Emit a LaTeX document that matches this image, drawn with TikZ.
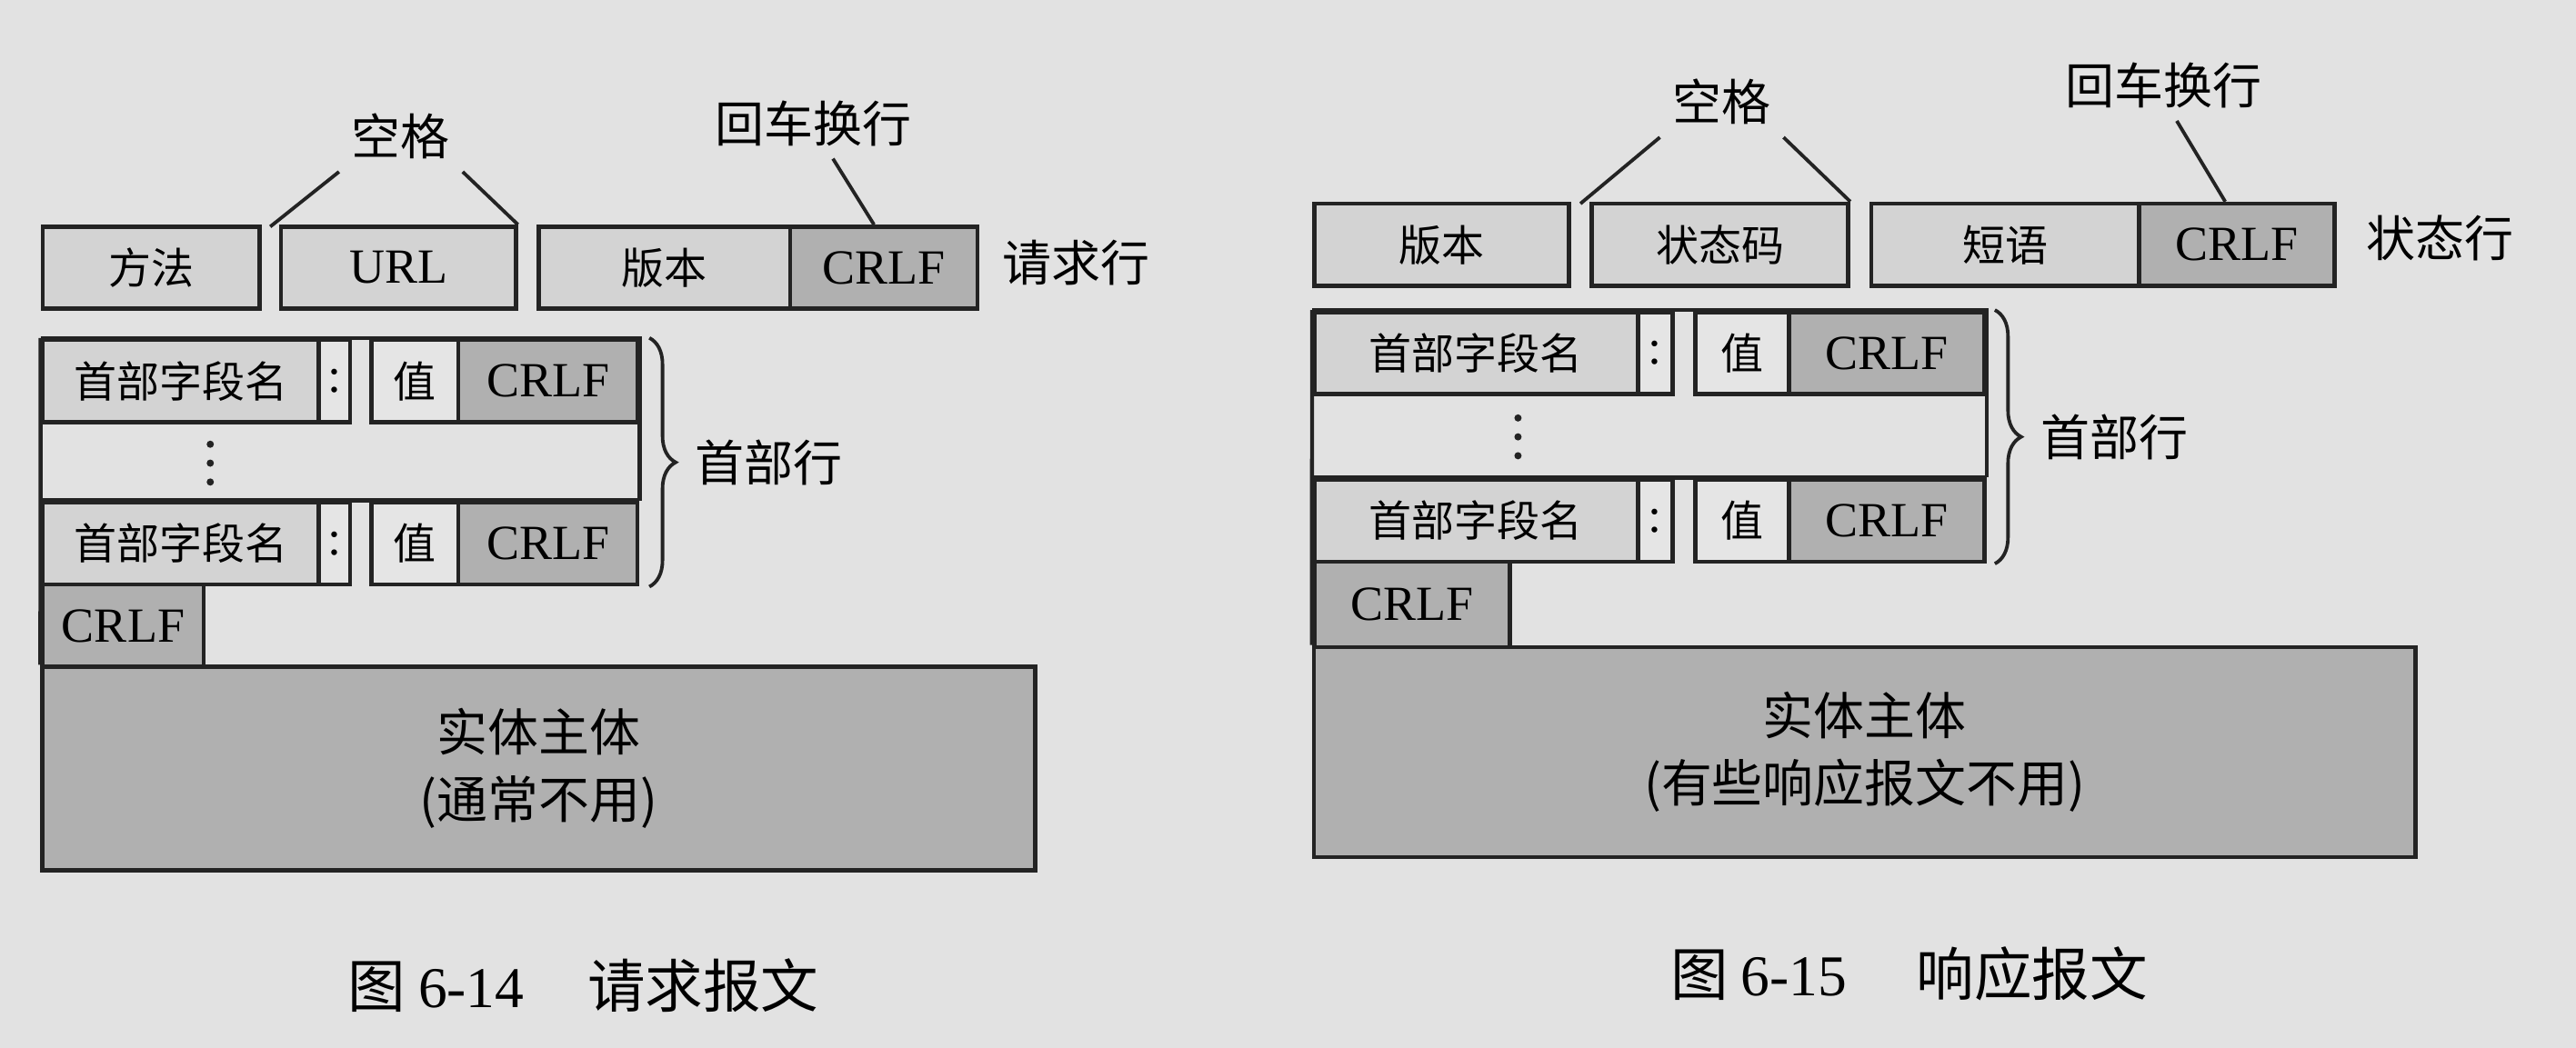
\documentclass[tikz,border=0pt]{standalone}
\usepackage{fontspec}
\setmainfont{Noto Sans CJK SC}
\newfontfamily\lat{Liberation Serif}
\usetikzlibrary{positioning, decorations.pathreplacing}

\definecolor{paper}{RGB}{226,226,226}
\definecolor{fldgray}{RGB}{211,211,211}
\definecolor{valgray}{RGB}{229,229,229}
\definecolor{crlfgray}{RGB}{176,176,176}
\definecolor{ink}{RGB}{35,35,35}

\begin{document}
\begin{tikzpicture}[
  x=0.01cm, y=-0.01cm,
  box/.style={draw=ink, line width=0.7pt, inner sep=0pt, minimum height=0.5cm},
  fld/.style={box, fill=fldgray, font=\fontsize{7.4}{9}\selectfont},
  val/.style={box, fill=valgray, font=\fontsize{7.4}{9}\selectfont},
  crlf/.style={box, fill=crlfgray, font=\lat\fontsize{8.5}{10}\selectfont},
  latin/.style={font=\lat\fontsize{8.5}{10}\selectfont},
  body/.style={box, fill=crlfgray, align=center, font=\fontsize{8.8}{11.6}\selectfont},
  tag/.style={inner sep=2pt, font=\fontsize{8.5}{10}\selectfont},
  frame/.style={draw=ink, line width=0.7pt},
  lead/.style={draw=ink, line width=0.6pt},
  brace/.style={draw=ink, line width=0.6pt, decorate, decoration={brace, amplitude=0.16cm}},
  figcap/.style={font=\fontsize{10}{12}\selectfont}
]
  \useasboundingbox (0,0) rectangle (1568,638);
  \fill[paper] (0,0) rectangle (1568,638);

  % ---------- request message ----------
  % request line
  \node[fld, minimum width=1.32cm] (req-method) at (92,163) {方法};
  \node[fld, latin, minimum width=1.43cm] (req-url) at (242.5,163) {URL};
  \node[fld, minimum width=1.53cm] (req-ver) at (404.5,163) {版本};
  \node[crlf, minimum width=1.14cm] (req-crlf) at (538,163) {CRLF};
  \node[tag] (req-lbl) at (655,160) {请求行};

  % space and CR/LF callouts
  \node[tag] (req-sp) at (244,83) {空格};
  \coordinate (req-gap) at (164.5,138);
  \draw[lead] (req-sp.south west) -- (req-gap);
  \draw[lead] (req-sp.south east) -- (req-url.north east);
  \node[tag] (req-cr) at (495,75) {回车换行};
  \draw[lead] ([xshift=0.12cm]req-cr.south) -- ([xshift=-0.06cm]req-crlf.north);

  % header lines
  \node[fld, minimum width=1.68cm] (req-h1-name) at (110,232) {首部字段名};
  \node[val, latin, minimum width=0.19cm] (req-h1-colon) at (203.5,232) {:};
  \node[val, minimum width=0.53cm] (req-h1-val) at (252.5,232) {值};
  \node[crlf, minimum width=1.09cm] (req-h1-crlf) at (333.5,232) {CRLF};
  \foreach \dy in {-11.5,0,11.5}
    \fill[ink] (128,282+\dy) circle (0.022cm);
  \node[fld, minimum width=1.68cm] (req-h2-name) at (110,331) {首部字段名};
  \node[val, latin, minimum width=0.19cm] (req-h2-colon) at (203.5,331) {:};
  \node[val, minimum width=0.53cm] (req-h2-val) at (252.5,331) {值};
  \node[crlf, minimum width=1.09cm] (req-h2-crlf) at (333.5,331) {CRLF};

  % empty line and entity body
  \node[crlf, minimum width=0.98cm] (req-end) at (75,381) {CRLF};
  \node[body, minimum width=6.04cm, minimum height=1.24cm] (req-body) at (328,468)
    {实体主体\\(通常不用)};

  % header frame
  \draw[frame] (req-h1-name.north west) -- (req-h1-crlf.north east) -- (req-h2-crlf.north east);
  \draw[frame] (req-h2-name.north west) -- (req-h2-crlf.north east);
  \draw[frame] (req-h1-name.north west) -- (req-body.north west);

  % header brace
  \draw[brace] ([xshift=0.06cm]req-h1-crlf.north east) -- ([xshift=0.06cm]req-h2-crlf.south east)
    node[tag, midway, right=0.2cm] (req-hdr) {首部行};

  \node[figcap] (cap-req) at (355,600) {图 {\lat 6-14}\hspace{1.1em}请求报文};

  % ---------- response message ----------
  % status line
  \node[fld, minimum width=1.55cm] (rsp-ver) at (877.5,149) {版本};
  \node[fld, minimum width=1.56cm] (rsp-code) at (1047,149) {状态码};
  \node[fld, minimum width=1.63cm] (rsp-phrase) at (1220.5,149) {短语};
  \node[crlf, minimum width=1.19cm] (rsp-crlf) at (1361.5,149) {CRLF};
  \node[tag] (rsp-lbl) at (1485,145) {状态行};

  % space and CR/LF callouts
  \node[tag] (rsp-sp) at (1048,62) {空格};
  \coordinate (rsp-gap) at (962,124);
  \draw[lead] (rsp-sp.south west) -- (rsp-gap);
  \draw[lead] (rsp-sp.south east) -- (rsp-code.north east);
  \node[tag] (rsp-cr) at (1317,52) {回车换行};
  \draw[lead] ([xshift=0.08cm]rsp-cr.south) -- ([xshift=-0.07cm]rsp-crlf.north);

  % header lines
  \node[fld, minimum width=1.97cm] (rsp-h1-name) at (898.5,215) {首部字段名};
  \node[val, latin, minimum width=0.21cm] (rsp-h1-colon) at (1007.5,215) {:};
  \node[val, minimum width=0.57cm] (rsp-h1-val) at (1060.5,215) {值};
  \node[crlf, minimum width=1.19cm] (rsp-h1-crlf) at (1148.5,215) {CRLF};
  \foreach \dy in {-11.5,0,11.5}
    \fill[ink] (924,266+\dy) circle (0.022cm);
  \node[fld, minimum width=1.97cm] (rsp-h2-name) at (898.5,317) {首部字段名};
  \node[val, latin, minimum width=0.21cm] (rsp-h2-colon) at (1007.5,317) {:};
  \node[val, minimum width=0.57cm] (rsp-h2-val) at (1060.5,317) {值};
  \node[crlf, minimum width=1.19cm] (rsp-h2-crlf) at (1148.5,317) {CRLF};

  % empty line and entity body
  \node[crlf, minimum width=1.19cm, minimum height=0.52cm] (rsp-end) at (859.5,368) {CRLF};
  \node[body, minimum width=6.70cm, minimum height=1.28cm] (rsp-body) at (1135,458)
    {实体主体\\(有些响应报文不用)};

  % header frame
  \draw[frame] (rsp-h1-name.north west) -- (rsp-h1-crlf.north east) -- (rsp-h2-crlf.north east);
  \draw[frame] (rsp-h2-name.north west) -- (rsp-h2-crlf.north east);
  \draw[frame] (rsp-h1-name.north west) -- (rsp-body.north west);

  % header brace
  \draw[brace] ([xshift=0.05cm]rsp-h1-crlf.north east) -- ([xshift=0.05cm]rsp-h2-crlf.south east)
    node[tag, midway, right=0.2cm] (rsp-hdr) {首部行};

  \node[figcap] (cap-rsp) at (1162,593) {图 {\lat 6-15}\hspace{1.2em}响应报文};
\end{tikzpicture}
\end{document}
